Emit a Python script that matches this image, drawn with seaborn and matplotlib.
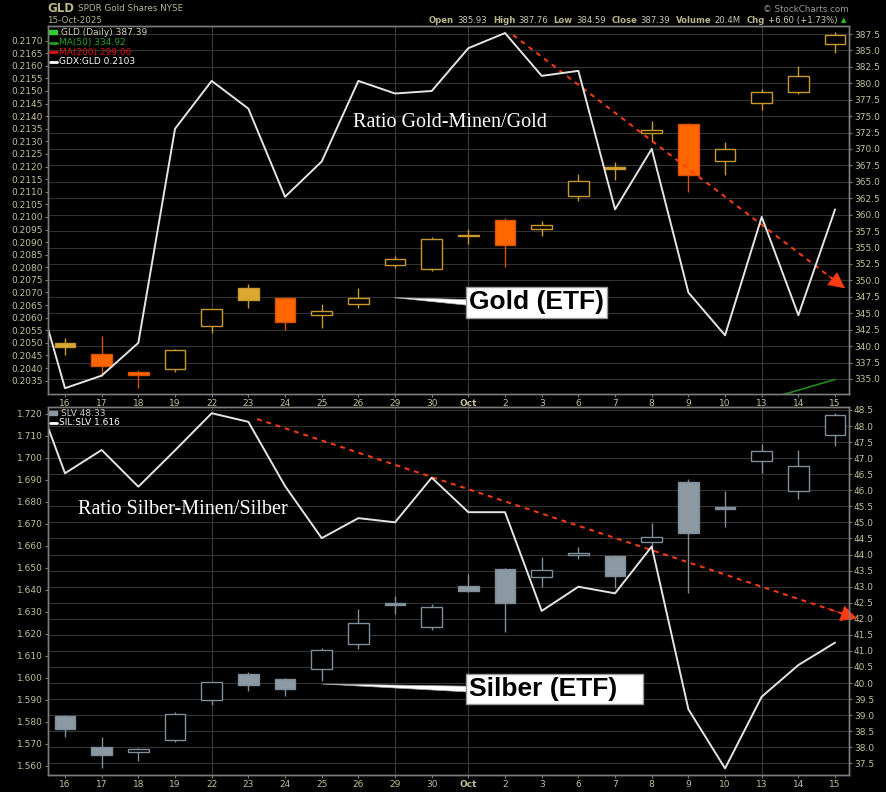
import matplotlib
matplotlib.use("Agg")
import numpy as np
import pandas as pd
import matplotlib.pyplot as plt
import seaborn as sns
from matplotlib.lines import Line2D
from matplotlib.ticker import FormatStrFormatter

# trading days, 16 Sep - 15 Oct 2025
dates = ["16", "17", "18", "19", "22", "23", "24", "25", "26", "29", "30",
         "Oct", "2", "3", "6", "7", "8", "9", "10", "13", "14", "15"]
grid_dates = ["22", "29", "Oct", "13"]

# upper panel: GDX:GLD ratio (left axis) + GLD candles (right axis)
gdx_gld_prev = 0.2083   # 15 Sep, only the tail of the segment is visible
gdx_gld = [0.2032, 0.2037, 0.2050, 0.2135, 0.2154, 0.2143, 0.2108, 0.2122, 0.2154, 0.2149, 0.2150,
           0.2167, 0.2173, 0.2156, 0.2158, 0.2103, 0.2127, 0.2070, 0.2053, 0.2100, 0.2061, 0.2103]
gld_open = [340.4, 338.8, 336.1, 336.5, 343.1, 348.9, 347.3, 344.8, 346.4, 352.4, 351.8,
            356.7, 359.2, 357.8, 362.9, 367.3, 372.4, 373.8, 368.2, 377.0, 378.6, 385.93]
gld_high = [341.2, 341.6, 336.3, 339.5, 345.7, 349.5, 347.4, 346.4, 348.9, 353.7, 356.6,
            357.8, 359.5, 359.0, 366.2, 368.0, 374.3, 373.9, 371.1, 379.2, 382.7, 387.76]
gld_low = [338.7, 335.5, 333.6, 336.1, 342.0, 345.8, 342.5, 342.7, 345.8, 351.9, 351.5,
           355.5, 352.1, 356.7, 362.1, 365.3, 371.1, 363.5, 366.0, 376.0, 378.3, 384.59]
gld_close = [339.8, 336.9, 335.6, 339.4, 345.6, 347.0, 343.7, 345.3, 347.3, 353.2, 356.3,
             356.9, 355.4, 358.4, 365.2, 367.0, 372.9, 366.1, 370.0, 378.6, 381.1, 387.39]
ma50_dates = ["13", "14", "15"]
gld_ma50 = [331.7, 333.3, 334.92]

# lower panel: SIL:SLV ratio (left axis) + SLV candles (right axis)
sil_slv_prev = 1.738
sil_slv = [1.6930, 1.7036, 1.6869, 1.7034, 1.7203, 1.7164, 1.6872, 1.6635, 1.6726, 1.6707, 1.6910,
           1.6753, 1.6753, 1.6304, 1.6414, 1.6384, 1.6597, 1.5857, 1.5588, 1.5914, 1.6058, 1.6160]
slv_open = [38.97, 38.02, 37.84, 38.23, 39.46, 40.27, 40.12, 40.45, 41.21, 42.50, 41.75,
            43.01, 43.56, 43.29, 43.98, 43.96, 44.38, 46.25, 45.47, 46.90, 45.97, 47.73]
slv_high = [39.00, 38.32, 37.99, 39.11, 40.03, 40.34, 40.16, 41.08, 42.30, 42.72, 42.45,
            43.39, 43.58, 43.93, 44.24, 43.97, 44.97, 46.34, 45.99, 47.43, 47.25, 48.40]
slv_low = [38.31, 37.35, 37.58, 38.15, 39.32, 39.76, 39.60, 40.07, 41.05, 42.15, 41.65,
           42.84, 41.60, 42.99, 43.85, 42.95, 44.24, 42.79, 44.87, 46.55, 45.73, 47.39]
slv_close = [38.56, 37.75, 37.95, 39.03, 40.02, 39.94, 39.80, 41.03, 41.86, 42.42, 42.36,
             42.87, 42.50, 43.51, 44.04, 43.34, 44.54, 44.66, 45.41, 47.23, 46.77, 48.33]

# hand drawn trend lines (day index, price)
gold_trend_x = [12.22, 21.27]
gold_trend_y = [387.35, 348.8]
silver_trend_x = [5.24, 21.6]
silver_trend_y = [48.22, 42.01]

# tick values
gdx_ticks = np.round(np.arange(0.2035, 0.21701, 0.0005), 4)
gld_ticks = np.arange(335.0, 387.6, 2.5)
sil_ticks = np.round(np.arange(1.560, 1.7201, 0.010), 3)
slv_ticks = np.arange(37.5, 48.51, 0.5)

KHAKI = "#c4c097"
GRID = "#333333"
FRAME = "#7c7c7c"
RED = "#ff3c14"
W, H = 886, 792

sns.set_theme(style="dark", rc={"axes.facecolor": "black", "figure.facecolor": "black",
                                "savefig.facecolor": "black", "axes.grid": False})
plt.rcParams["font.family"] = ["DejaVu Sans"]


def fx(px):
    return px / W


def fy(py):
    return 1 - py / H


def style_axes(ax):
    for s in ax.spines.values():
        s.set_color(FRAME)
        s.set_linewidth(1)
    ax.tick_params(colors=FRAME, labelcolor=KHAKI, labelsize=6.5, length=2.5, width=0.8, pad=1)
    ax.set_xlabel("")
    ax.set_ylabel("")


def draw_candles(ax, o, h, l, c, gain_edge, loss_edge, gain_fill, loss_fill):
    o, h, l, c = map(np.asarray, (o, h, l, c))
    x = np.arange(len(o))
    prev = np.r_[c[0], c[:-1]]
    gain = c >= prev
    hollow = c >= o
    edge = np.where(gain, gain_edge, loss_edge)
    face = np.where(hollow, "black", np.where(gain, gain_fill, loss_fill))
    ax.vlines(x, l, h, colors=edge, lw=1, zorder=2)
    ax.bar(x, np.maximum(np.abs(c - o), 0.002 * (h.max() - l.min())), bottom=np.minimum(o, c),
           width=0.56, color=face, edgecolor=edge, linewidth=1, zorder=3)


def panel(rect, ratio_prev, ratio, ratio_ylim, ratio_ticks, ratio_fmt,
          price_ylim, price_ticks):
    axr = fig.add_axes(rect)
    axp = axr.twinx()
    axr.set_zorder(2)
    axp.set_zorder(1)
    axr.patch.set_visible(False)

    df = pd.DataFrame({"day": np.arange(-1, len(ratio)), "ratio": [ratio_prev] + ratio})
    sns.lineplot(data=df, x="day", y="ratio", ax=axr, color="#e4e4e4", lw=1.4)

    axr.set_xlim(-0.472, 21.38)
    axr.set_ylim(*ratio_ylim)
    axr.set_yticks(ratio_ticks)
    axr.yaxis.set_major_formatter(FormatStrFormatter(ratio_fmt))
    axr.set_xticks(range(len(dates)))
    axr.set_xticklabels(dates)
    for t in axr.get_xticklabels():
        if t.get_text() == "Oct":
            t.set_fontweight("bold")
    axr.tick_params(left=True, bottom=True)

    axp.set_ylim(*price_ylim)
    axp.set_yticks(price_ticks)
    axp.yaxis.set_major_formatter(FormatStrFormatter("%.1f"))
    axp.tick_params(right=True)
    for d in grid_dates:
        axp.axvline(dates.index(d), color="#3a3a3a", lw=0.8, zorder=0)

    style_axes(axr)
    style_axes(axp)
    # only horizontal grid of the price scale
    axr.grid(False)
    axp.grid(False)
    axp.yaxis.grid(True, color=GRID, lw=0.8)
    return axr, axp


def trend(ax, xs, ys):
    ax.plot(xs, ys, color=RED, lw=1.4, ls=(0, (2.5, 2.5)), clip_on=False, zorder=4)
    hx = xs[1] - 0.05 * (xs[1] - xs[0])
    hy = ys[1] - 0.05 * (ys[1] - ys[0])
    ax.annotate("", xy=(xs[1], ys[1]), xytext=(hx, hy), annotation_clip=False,
                arrowprops=dict(arrowstyle="-|>,head_length=0.9,head_width=0.45", color=RED,
                                lw=0.5, shrinkA=0, shrinkB=0, mutation_scale=12), zorder=5)


def etf_label(ax, text, x, y, tip):
    ax.annotate("", xy=tip, xytext=(x, y),
                arrowprops=dict(arrowstyle="wedge,tail_width=0.35,shrink_factor=0.5",
                                fc="white", ec="#aaaaaa", lw=0.5, shrinkA=0, shrinkB=0), zorder=6)
    ax.text(x, y, text, ha="left", va="center", fontsize=19, fontweight="bold",
            family="Liberation Sans", color="black", zorder=7,
            bbox=dict(boxstyle="square,pad=0.12", fc="white", ec="#9a9a9a", lw=1))


fig = plt.figure(figsize=(W / 100, H / 100), dpi=100)

# ---------------- upper panel ----------------
ax1r, ax1p = panel([fx(47.7), fy(394), fx(849) - fx(47.7), fy(26) - fy(394)],
                   gdx_gld_prev, gdx_gld, (0.20297, 0.21758), gdx_ticks, "%.4f",
                   (332.71, 388.72), gld_ticks)
draw_candles(ax1p, gld_open, gld_high, gld_low, gld_close,
             gain_edge="#c99a2a", loss_edge="#d85200", gain_fill="#dba932", loss_fill="#ff6600")
sns.lineplot(x=[dates.index(d) for d in ma50_dates], y=gld_ma50, ax=ax1p, color="#1f8a1f", lw=1.2)
ax1p.set_xlabel("")
ax1p.set_ylabel("")
trend(ax1p, gold_trend_x, gold_trend_y)
etf_label(ax1p, "Gold (ETF)", 11.02, 346.64, (8.97, 347.37))
ax1r.text(0.502, 0.739, "Ratio Gold-Minen/Gold", transform=ax1r.transAxes, ha="center", va="center",
          family="Liberation Serif", fontsize=14.5, color="white")

# ---------------- lower panel ----------------
ax2r, ax2p = panel([fx(47.7), fy(775), fx(849) - fx(47.7), fy(407.3) - fy(775)],
                   sil_slv_prev, sil_slv, (1.5558, 1.7230), sil_ticks, "%.3f",
                   (37.136, 48.584), slv_ticks)
draw_candles(ax2p, slv_open, slv_high, slv_low, slv_close,
             gain_edge="#7f8e9a", loss_edge="#7f8e9a", gain_fill="#8c99a3", loss_fill="#8c99a3")
trend(ax2p, silver_trend_x, silver_trend_y)
etf_label(ax2p, "Silber (ETF)   ", 11.02, 39.81, (7.01, 39.97))
ax2r.text(0.169, 0.7207, "Ratio Silber-Minen/Silber", transform=ax2r.transAxes, ha="center", va="center",
          family="Liberation Serif", fontsize=14.5, color="white")

# ---------------- legends ----------------
fig.add_artist(Line2D([fx(51), fx(55)], [fy(32.3)] * 2, marker="s", ms=2.5, ls="none", color="#33cc33"))
fig.text(fx(61), fy(32.3), "GLD (Daily) 387.39", fontsize=6.5, color="#d2d2b4", va="center")
legend_rows = [("MA(50) 334.92", "#22a022", 42.7), ("MA(200) 299.06", "#e01010", 52.3),
               ("GDX:GLD 0.2103", "white", 62.0)]
for label, col, py in legend_rows:
    fig.add_artist(Line2D([fx(50), fx(57)], [fy(py)] * 2, color=col, lw=2))
    fig.text(fx(59), fy(py), label, fontsize=6.5, color=col, va="center")

fig.add_artist(Line2D([fx(51), fx(55)], [fy(413.5)] * 2, marker="s", ms=2.5, ls="none", color="#8c99a3"))
fig.text(fx(61), fy(413.5), "SLV 48.33", fontsize=6.5, color="#c8c8c8", va="center")
fig.add_artist(Line2D([fx(50), fx(57)], [fy(422.7)] * 2, color="white", lw=2))
fig.text(fx(59), fy(422.7), "SIL:SLV 1.616", fontsize=6.5, color="white", va="center")

# ---------------- header ----------------
fig.text(fx(47), fy(8), "GLD", fontsize=8.5, fontweight="bold", color="#b8b48a", va="center")
fig.text(fx(78), fy(8.5), "SPDR Gold Shares NYSE", fontsize=6.3, color="#b8b48a", va="center")
fig.text(fx(47), fy(20.5), "15-Oct-2025", fontsize=6.3, color="#b8b48a", va="center")
fig.text(fx(849), fy(9), "\u00a9 StockCharts.com", fontsize=6.3, color="#9a9a9a", va="center", ha="right")

header = [("Open", True), ("385.93", False), ("High", True), ("387.76", False), ("Low", True),
          ("384.59", False), ("Close", True), ("387.39", False), ("Volume", True), ("20.4M", False),
          ("Chg", True), ("+6.60 (+1.73%)", False)]
renderer = fig.canvas.get_renderer()
px = 429
for txt, bold in header:
    t = fig.text(fx(px), fy(20.5), txt, fontsize=6.1, fontweight="bold" if bold else "normal",
                 color="#b8b48a" if bold else "#c8c8b0", va="center")
    px += t.get_window_extent(renderer=renderer).width + (3 if bold else 6)
fig.text(fx(px - 3), fy(20.5), "\u25b2", fontsize=5, color="#22cc22", va="center")

fig.savefig("out.png", dpi=100, facecolor="black")
